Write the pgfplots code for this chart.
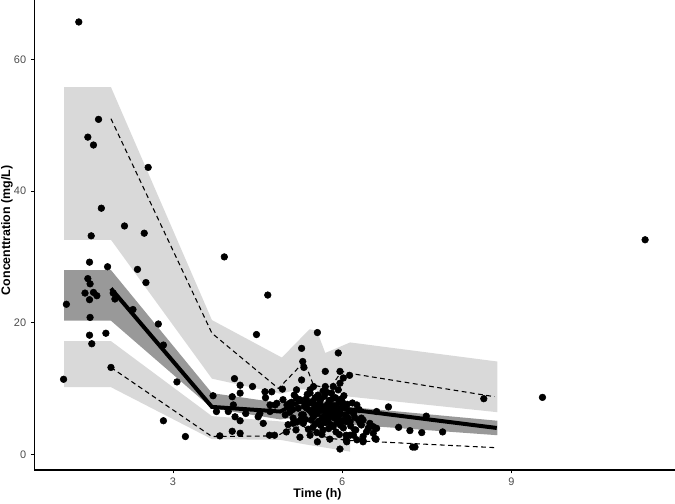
\documentclass[border=0pt]{standalone}
\usepackage{fontspec}
\setmainfont{Liberation Sans}
\usepackage{pgfplots}
\pgfplotsset{compat=1.18}
\definecolor{bandlight}{gray}{0.85}
\definecolor{banddark}{gray}{0.60}
\definecolor{ticktext}{gray}{0.30}

\begin{document}
\begin{tikzpicture}
\begin{axis}[
  scale only axis, width=480.5pt, height=352.5pt,
  xmin=0.541, xmax=11.90, ymin=-2.39, ymax=69.04,
  axis lines=left, axis line style={-, line width=0.9pt},
  xtick={3,6,9}, ytick={0,20,40,60},
  tick align=outside, major tick length=2.6pt,
  tick style={line width=0.7pt, black},
  ticklabel style={font=\fontsize{8.2}{9}\selectfont, text=ticktext},
  /pgf/number format/assume math mode=true,
  xlabel={Time (h)}, ylabel={Concenttration (mg/L)},
  xlabel style={at={(axis description cs:0.442,-0.0511)}, anchor=center, font=\fontsize{9.3}{11}\selectfont\bfseries},
  ylabel style={at={(axis description cs:-0.0426,0.51)}, anchor=center, font=\fontsize{9.3}{11}\selectfont\bfseries},
]
% CI of 95th percentile
\addplot[fill=bandlight, draw=none] coordinates {
  (1.07,55.8) (1.90,55.8) (3.69,20.4) (4.93,14.7) (5.42,19.0) (5.55,18.8)
  (5.70,15.4) (6.14,17.0) (8.75,14.1)
  (8.75,6.4) (6.14,8.75) (5.70,9.6) (5.25,9.9) (4.90,9.2) (3.69,11.5)
  (1.90,32.6) (1.07,32.6)} -- cycle;
% CI of median
\addplot[fill=banddark, draw=none] coordinates {
  (1.07,28.0) (1.90,28.0) (3.69,9.3) (4.90,7.8) (5.35,8.8) (6.00,7.3) (8.75,5.1)
  (8.75,2.9) (6.00,4.6) (5.35,5.8) (4.90,5.3) (3.69,7.0) (1.90,20.3) (1.07,20.3)} -- cycle;
% CI of 5th percentile
\addplot[fill=bandlight, draw=none] coordinates {
  (1.07,17.2) (1.90,17.2) (3.69,5.8) (4.90,5.0) (5.35,4.5) (6.14,3.0)
  (6.14,0.4) (5.35,1.5) (4.90,2.2) (3.69,2.3) (1.90,10.2) (1.07,10.2)} -- cycle;

% observed percentiles
\addplot[black, line width=0.8pt, dash pattern=on 3.6pt off 2.6pt] coordinates {
  (1.90,51.0) (3.69,18.4) (4.87,10.0) (5.33,14.1) (5.49,10.5) (5.78,10.0)
  (5.99,12.6) (6.14,12.3) (8.70,8.75)};
\addplot[black, line width=0.8pt, dash pattern=on 3.6pt off 2.6pt] coordinates {
  (1.90,13.2) (3.69,2.7) (4.85,2.8) (5.05,3.8) (5.30,4.3) (5.55,3.0)
  (5.80,2.4) (6.14,2.1) (8.74,1.0)};
\addplot[black, line width=3pt] coordinates {
  (1.90,25.2) (3.69,7.2) (4.90,6.5) (5.25,8.0) (5.60,7.3) (6.05,6.9) (8.74,4.0)};

% observations
\addplot[only marks, mark=*, mark size=2.5pt, black] coordinates {
  (1.33,65.7) (1.68,50.9) (1.49,48.2) (1.59,47.0) (2.56,43.6) (1.73,37.4)
  (2.14,34.7) (2.49,33.6) (1.55,33.2) (3.91,30.0) (1.52,29.2) (1.84,28.5)
  (2.37,28.1) (2.52,26.1) (1.49,26.7) (1.53,25.9) (1.44,24.5) (1.59,24.6)
  (1.65,24.1) (1.52,23.5) (1.11,22.8) (1.97,23.6) (1.94,24.5) (2.29,22.0)
  (1.53,20.8) (4.68,24.2) (2.74,19.8) (1.81,18.4) (1.52,18.1) (1.56,16.8)
  (2.83,16.6) (4.48,18.2) (5.56,18.5) (5.28,16.1) (1.06,11.4) (1.90,13.2)
  (3.07,11.0) (2.83,5.1) (3.22,2.7) (3.71,8.9) (4.09,11.5) (4.19,10.5)
  (4.19,9.3) (4.41,10.3) (4.05,8.75) (4.07,7.5) (3.77,6.5) (3.98,6.5)
  (4.10,5.7) (4.29,6.2) (4.19,5.1) (4.05,3.5) (4.19,3.2) (3.83,2.8)
  (4.63,9.5) (4.64,8.6) (4.75,9.5) (4.94,9.9) (4.60,4.7) (4.54,6.2)
  (4.71,2.9) (4.80,2.9) (4.81,7.5) (4.51,5.7) (4.72,6.5) (4.72,7.5) (4.84,7.75)
  (5.30,14.1) (5.32,13.2) (5.28,11.3) (5.70,12.6) (5.93,15.4) (5.49,10.3)
  (5.70,10.3) (5.84,10.3) (5.93,9.8) (5.43,9.8) (5.19,9.8) (5.96,10.8)
  (5.56,1.9) (5.78,2.3) (5.96,0.8) (5.96,12.6) (6.02,11.6) (6.13,12.0)
  (8.51,8.45) (9.55,8.65) (11.37,32.6)
  (6.82,7.2) (6.26,7.5) (7.49,5.8) (7.00,4.1) (7.20,3.6) (7.41,3.3)
  (7.78,3.4) (7.25,1.1) (7.29,1.1) (6.49,4.7) (6.61,3.95) (6.58,2.4)
  (6.37,2.1) (6.08,1.9) (6.34,4.45) (6.43,3.4) (6.29,5.2) (6.20,2.9)
  (6.20,6.5) (6.61,6.5) (6.37,5.2) (6.46,3.95) (6.55,3.2) (6.37,2.7) (6.60,2.3)
  (6.08,5.7) (6.14,4.95) (6.55,4.2) (6.22,3.7) (6.07,2.9) (5.90,7.2)
  (6.00,8.0) (5.84,8.5)
  (4.95,8.3) (5.02,7.5) (5.07,6.4) (5.13,5.5) (5.04,4.5) (5.18,3.7)
  (4.99,6.0) (5.25,8.3) (5.20,4.9) (5.25,2.6) (5.01,3.4) (5.10,7.9)
  (5.15,9.0) (5.19,8.5) (5.22,7.0) (5.28,6.0) (5.31,6.0) (5.33,7.3)
  (5.36,8.4) (5.38,9.1) (5.40,7.8) (5.42,6.7) (5.43,9.3) (5.43,2.9)
  (5.45,5.2) (5.47,8.0) (5.48,4.1) (5.49,5.7) (5.50,6.9) (5.52,8.6)
  (5.53,7.5) (5.55,3.3) (5.56,6.2) (5.57,9.0) (5.58,5.0) (5.60,7.8)
  (5.61,8.3) (5.62,4.4) (5.63,6.7) (5.64,3.0) (5.65,5.6) (5.66,3.7)
  (5.67,7.2) (5.68,8.8) (5.70,6.0) (5.71,4.8) (5.72,6.5) (5.73,9.4)
  (5.74,7.6) (5.75,5.3) (5.76,3.9) (5.77,8.2) (5.78,7.0) (5.79,5.9)
  (5.80,4.5) (5.81,9.3) (5.82,6.4) (5.84,4.2) (5.85,7.4) (5.86,5.5)
  (5.88,8.6) (5.89,3.4) (5.90,6.8) (5.91,4.8) (5.93,5.7) (5.94,7.9)
  (5.95,3.0) (5.97,6.2) (5.98,8.4) (6.00,5.1) (6.01,7.1) (6.02,4.0)
  (6.03,8.9) (6.05,6.0) (6.07,4.95) (6.07,2.2) (6.09,7.6) (6.10,5.5)
  (6.12,6.6) (6.14,2.9) (6.15,4.3) (6.18,7.8) (6.20,6.2) (6.22,5.6)
  (6.24,3.7) (6.26,2.2) (6.30,6.8) (6.32,4.7) (6.34,5.5) (6.37,1.9)
  (5.37,7.0) (5.31,4.7) (5.13,4.7) (5.07,7.75) (5.61,8.25) (5.78,7.75)
  (6.02,7.5) (5.35,5.3) (5.52,4.6) (5.69,5.1) (5.46,6.3) (5.58,7.1)
  (5.26,5.2) (5.40,3.8) (5.87,6.0) (5.97,4.4) (5.12,6.8) (5.66,9.6)
};
\end{axis}
\pgfresetboundingbox
\path ([shift={(-25.725pt,-24.75pt)}]current axis.south west) rectangle (current axis.north east);
\end{tikzpicture}
\end{document}
